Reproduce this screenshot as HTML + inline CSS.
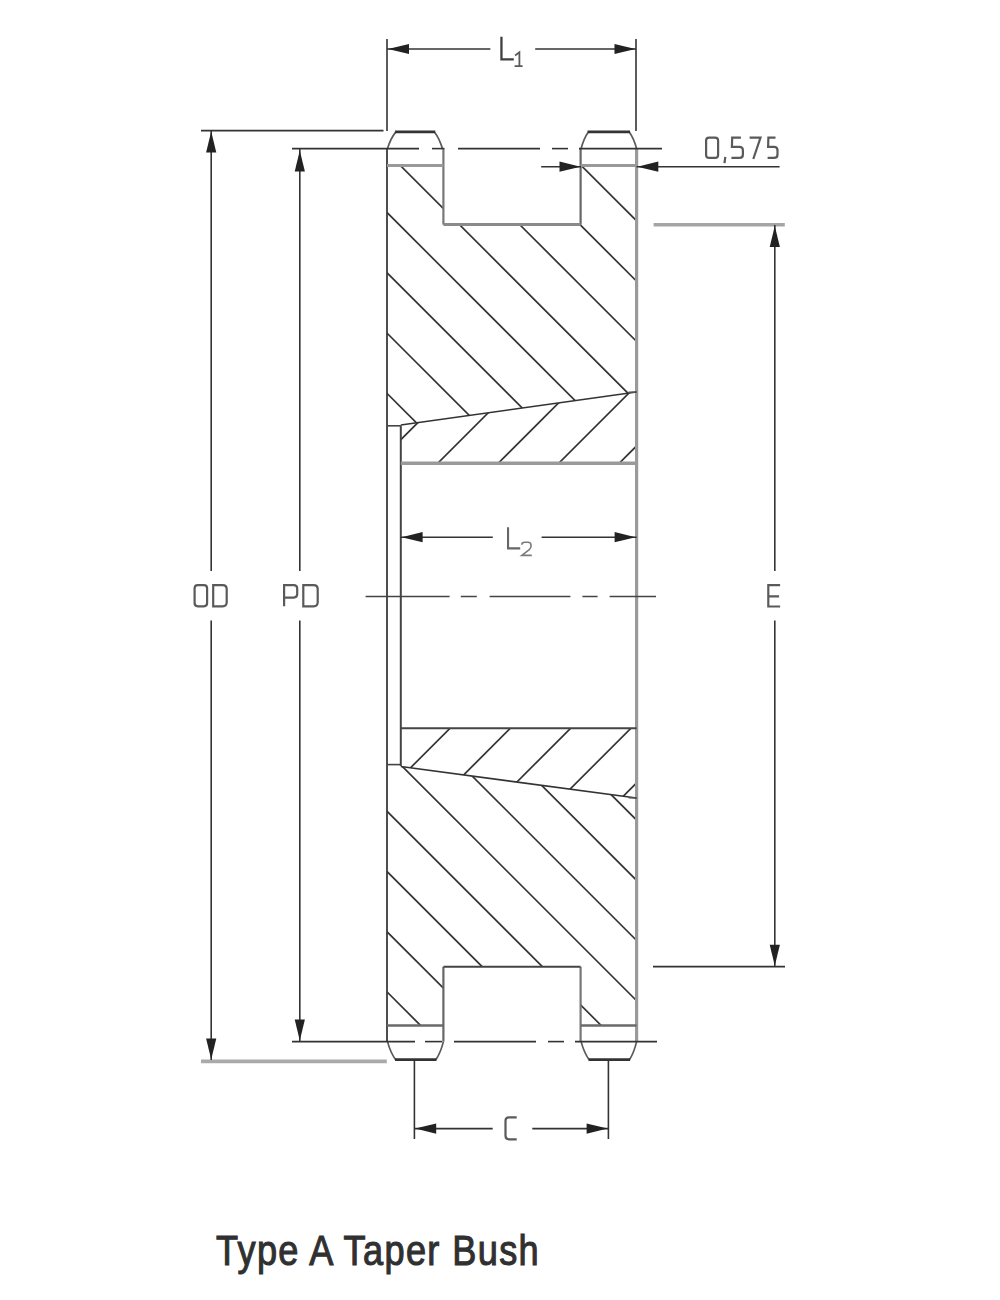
<!DOCTYPE html>
<html><head><meta charset="utf-8"><title>Type A Taper Bush</title>
<style>
html,body{margin:0;padding:0;background:#fff;}
body{width:1000px;height:1300px;position:relative;overflow:hidden;font-family:"Liberation Sans",sans-serif;}
.title{position:absolute;left:216px;top:1227.4px;transform:scaleX(0.8603);font-family:"Liberation Sans",sans-serif;font-weight:normal;font-size:42px;color:#303030;-webkit-text-stroke:1.1px #303030;letter-spacing:1.6px;white-space:nowrap;transform-origin:0 0;}
</style></head>
<body>
<svg width="1000" height="1300" viewBox="0 0 1000 1300" style="position:absolute;left:0;top:0">
<defs><clipPath id="hub1"><polygon points="387.0,165.6 443.4,165.6 443.4,224.6 580.6,224.6 580.6,165.6 636.6,165.6 636.6,392.0 400.8,425.0 387.0,425.8"/></clipPath><clipPath id="bush1"><polygon points="400.8,425.0 636.6,392.0 636.6,463.3 400.8,463.3"/></clipPath><clipPath id="bush2"><polygon points="400.8,728.2 636.6,728.2 636.6,798.0 400.8,766.5"/></clipPath><clipPath id="hub2"><polygon points="387.0,764.6 400.8,766.5 636.6,798.0 636.6,1025.5 580.6,1025.5 580.6,966.8 443.4,966.8 443.4,1025.5 387.0,1025.5"/></clipPath></defs>
<line x1="300" y1="306.4" x2="700" y2="706.4" stroke="#333" stroke-width="1.7" clip-path="url(#hub1)"/>
<line x1="300" y1="246.1" x2="700" y2="646.1" stroke="#333" stroke-width="1.7" clip-path="url(#hub1)"/>
<line x1="300" y1="185.8" x2="700" y2="585.8" stroke="#333" stroke-width="1.7" clip-path="url(#hub1)"/>
<line x1="300" y1="125.50000000000003" x2="700" y2="525.5" stroke="#333" stroke-width="1.7" clip-path="url(#hub1)"/>
<line x1="300" y1="65.20000000000002" x2="700" y2="465.20000000000005" stroke="#333" stroke-width="1.7" clip-path="url(#hub1)"/>
<line x1="300" y1="4.899999999999977" x2="700" y2="404.9" stroke="#333" stroke-width="1.7" clip-path="url(#hub1)"/>
<line x1="300" y1="-55.39999999999998" x2="700" y2="344.6" stroke="#333" stroke-width="1.7" clip-path="url(#hub1)"/>
<line x1="300" y1="-115.69999999999999" x2="700" y2="284.3" stroke="#333" stroke-width="1.7" clip-path="url(#hub1)"/>
<line x1="300" y1="-176.0" x2="700" y2="224.0" stroke="#333" stroke-width="1.7" clip-path="url(#hub1)"/>
<line x1="300" y1="423.3" x2="700" y2="823.3" stroke="#333" stroke-width="1.7" clip-path="url(#hub2)"/>
<line x1="300" y1="483.5" x2="700" y2="883.5" stroke="#333" stroke-width="1.7" clip-path="url(#hub2)"/>
<line x1="300" y1="543.7" x2="700" y2="943.7" stroke="#333" stroke-width="1.7" clip-path="url(#hub2)"/>
<line x1="300" y1="603.9" x2="700" y2="1003.9" stroke="#333" stroke-width="1.7" clip-path="url(#hub2)"/>
<line x1="300" y1="664.1" x2="700" y2="1064.1" stroke="#333" stroke-width="1.7" clip-path="url(#hub2)"/>
<line x1="300" y1="724.3" x2="700" y2="1124.3" stroke="#333" stroke-width="1.7" clip-path="url(#hub2)"/>
<line x1="300" y1="784.5" x2="700" y2="1184.5" stroke="#333" stroke-width="1.7" clip-path="url(#hub2)"/>
<line x1="300" y1="844.7" x2="700" y2="1244.7" stroke="#333" stroke-width="1.7" clip-path="url(#hub2)"/>
<line x1="300" y1="904.9000000000001" x2="700" y2="1304.9" stroke="#333" stroke-width="1.7" clip-path="url(#hub2)"/>
<line x1="300" y1="965.1" x2="700" y2="1365.1" stroke="#333" stroke-width="1.7" clip-path="url(#hub2)"/>
<line x1="300" y1="480.0" x2="700" y2="80.0" stroke="#333" stroke-width="1.7" clip-path="url(#bush1)"/>
<line x1="300" y1="540.5" x2="700" y2="140.5" stroke="#333" stroke-width="1.7" clip-path="url(#bush1)"/>
<line x1="300" y1="601.0" x2="700" y2="201.0" stroke="#333" stroke-width="1.7" clip-path="url(#bush1)"/>
<line x1="300" y1="661.5" x2="700" y2="261.5" stroke="#333" stroke-width="1.7" clip-path="url(#bush1)"/>
<line x1="300" y1="722.0" x2="700" y2="322.0" stroke="#333" stroke-width="1.7" clip-path="url(#bush1)"/>
<line x1="300" y1="782.5" x2="700" y2="382.5" stroke="#333" stroke-width="1.7" clip-path="url(#bush1)"/>
<line x1="300" y1="843.0" x2="700" y2="443.0" stroke="#333" stroke-width="1.7" clip-path="url(#bush1)"/>
<line x1="300" y1="903.5" x2="700" y2="503.5" stroke="#333" stroke-width="1.7" clip-path="url(#bush1)"/>
<line x1="300" y1="818.0" x2="700" y2="418.0" stroke="#333" stroke-width="1.7" clip-path="url(#bush2)"/>
<line x1="300" y1="878.3" x2="700" y2="478.29999999999995" stroke="#333" stroke-width="1.7" clip-path="url(#bush2)"/>
<line x1="300" y1="938.5999999999999" x2="700" y2="538.5999999999999" stroke="#333" stroke-width="1.7" clip-path="url(#bush2)"/>
<line x1="300" y1="998.8999999999999" x2="700" y2="598.8999999999999" stroke="#333" stroke-width="1.7" clip-path="url(#bush2)"/>
<line x1="300" y1="1059.1999999999998" x2="700" y2="659.1999999999998" stroke="#333" stroke-width="1.7" clip-path="url(#bush2)"/>
<line x1="300" y1="1119.5" x2="700" y2="719.5" stroke="#333" stroke-width="1.7" clip-path="url(#bush2)"/>
<line x1="300" y1="1179.8" x2="700" y2="779.8" stroke="#333" stroke-width="1.7" clip-path="url(#bush2)"/>
<line x1="300" y1="1240.1" x2="700" y2="840.0999999999999" stroke="#333" stroke-width="1.7" clip-path="url(#bush2)"/>
<line x1="387.0" y1="148.6" x2="387.0" y2="1041.6" stroke="#3a3a3a" stroke-width="1.8" />
<line x1="636.6" y1="148.1" x2="636.6" y2="1042.1" stroke="#9a9a9a" stroke-width="3.2" />
<line x1="400.8" y1="425.8" x2="400.8" y2="766.1" stroke="#444" stroke-width="2.0" />
<line x1="387.0" y1="425.8" x2="400.8" y2="425.8" stroke="#444" stroke-width="1.6" />
<line x1="387.0" y1="764.6" x2="400.8" y2="764.6" stroke="#444" stroke-width="1.6" />
<line x1="400.8" y1="425.0" x2="636.6" y2="392.0" stroke="#333" stroke-width="1.6" />
<line x1="400.8" y1="766.5" x2="636.6" y2="798.0" stroke="#333" stroke-width="1.6" />
<line x1="628.6" y1="392.3" x2="636.6" y2="392.0" stroke="#555" stroke-width="1.4" />
<line x1="628.6" y1="797.7" x2="636.6" y2="798.0" stroke="#555" stroke-width="1.4" />
<line x1="400.8" y1="463.3" x2="636.6" y2="463.3" stroke="#9a9a9a" stroke-width="3.4" />
<line x1="400.8" y1="728.2" x2="636.6" y2="728.2" stroke="#454545" stroke-width="2.0" />
<line x1="443.4" y1="148.6" x2="443.4" y2="224.6" stroke="#777" stroke-width="2.2" />
<line x1="580.6" y1="148.6" x2="580.6" y2="224.6" stroke="#666" stroke-width="2.2" />
<line x1="443.4" y1="224.6" x2="580.6" y2="224.6" stroke="#8a8a8a" stroke-width="3.0" />
<line x1="443.4" y1="966.8" x2="443.4" y2="1041.6" stroke="#666" stroke-width="2.2" />
<line x1="580.6" y1="966.8" x2="580.6" y2="1041.6" stroke="#777" stroke-width="2.2" />
<line x1="443.4" y1="966.8" x2="580.6" y2="966.8" stroke="#444" stroke-width="2.0" />
<line x1="387.0" y1="165.6" x2="443.4" y2="165.6" stroke="#999" stroke-width="3.0" />
<line x1="580.6" y1="165.6" x2="636.6" y2="165.6" stroke="#999" stroke-width="3.0" />
<line x1="387.0" y1="1025.5" x2="443.4" y2="1025.5" stroke="#6a6a6a" stroke-width="2.4" />
<line x1="580.6" y1="1025.5" x2="636.6" y2="1025.5" stroke="#6a6a6a" stroke-width="2.4" />
<path d="M387.5,148.6 Q390.54,138.56 395.5,132.4 M442.4,148.6 Q439.51,138.56 434.8,132.4" fill="none" stroke="#5a5a5a" stroke-width="1.7"/>
<line x1="395.0" y1="131.9" x2="435.3" y2="131.9" stroke="#333" stroke-width="2.8" />
<path d="M581.1,148.6 Q583.72,138.56 588,132.4 M636.6,148.6 Q633.94,138.56 629.6,132.4" fill="none" stroke="#5a5a5a" stroke-width="1.7"/>
<line x1="587.5" y1="131.9" x2="630.1" y2="131.9" stroke="#333" stroke-width="2.8" />
<path d="M387.5,1041.6 Q390.54,1052.70 395.5,1059.5 M443.4,1041.6 Q440.59,1052.70 436,1059.5" fill="none" stroke="#5a5a5a" stroke-width="1.7"/>
<line x1="395.0" y1="1059.7" x2="436.5" y2="1059.7" stroke="#333" stroke-width="2.8" />
<path d="M581.1,1041.6 Q584.10,1052.70 589,1059.5 M636.6,1041.6 Q633.94,1052.70 629.6,1059.5" fill="none" stroke="#5a5a5a" stroke-width="1.7"/>
<line x1="588.5" y1="1059.7" x2="630.1" y2="1059.7" stroke="#333" stroke-width="2.8" />
<line x1="292" y1="148.6" x2="419" y2="148.6" stroke="#333" stroke-width="1.6" />
<line x1="432" y1="148.6" x2="444.4" y2="148.6" stroke="#333" stroke-width="1.6" />
<line x1="458" y1="148.6" x2="540" y2="148.6" stroke="#333" stroke-width="1.6" />
<line x1="552" y1="148.6" x2="568" y2="148.6" stroke="#333" stroke-width="1.6" />
<line x1="579" y1="148.6" x2="662" y2="148.6" stroke="#333" stroke-width="1.6" />
<line x1="292" y1="1041.6" x2="415" y2="1041.6" stroke="#333" stroke-width="1.6" />
<line x1="425" y1="1041.6" x2="442" y2="1041.6" stroke="#333" stroke-width="1.6" />
<line x1="454" y1="1041.6" x2="536" y2="1041.6" stroke="#333" stroke-width="1.6" />
<line x1="548" y1="1041.6" x2="564" y2="1041.6" stroke="#333" stroke-width="1.6" />
<line x1="575" y1="1041.6" x2="657" y2="1041.6" stroke="#333" stroke-width="1.6" />
<line x1="365.6" y1="596.5" x2="449.6" y2="596.5" stroke="#444" stroke-width="1.5" />
<line x1="460.8" y1="596.5" x2="476.8" y2="596.5" stroke="#444" stroke-width="1.5" />
<line x1="489.6" y1="596.5" x2="570.4" y2="596.5" stroke="#444" stroke-width="1.5" />
<line x1="582.4" y1="596.5" x2="597.6" y2="596.5" stroke="#444" stroke-width="1.5" />
<line x1="609.6" y1="596.5" x2="656" y2="596.5" stroke="#444" stroke-width="1.5" />
<line x1="387.0" y1="39" x2="387.0" y2="131.1" stroke="#333" stroke-width="1.6" />
<line x1="636.0" y1="39" x2="636.0" y2="131.1" stroke="#333" stroke-width="1.6" />
<line x1="387.0" y1="49" x2="490.4" y2="49" stroke="#333" stroke-width="1.6" />
<line x1="535.2" y1="49" x2="636" y2="49" stroke="#333" stroke-width="1.6" />
<polygon points="388.00,49.00 409.00,43.90 409.00,54.10" fill="#222"/>
<polygon points="635.50,49.00 614.50,54.10 614.50,43.90" fill="#222"/>
<line x1="201" y1="130.6" x2="383.5" y2="130.6" stroke="#333" stroke-width="1.6" />
<line x1="201" y1="1061.4" x2="386.8" y2="1061.4" stroke="#aaa" stroke-width="3.6" />
<line x1="211.2" y1="131" x2="211.2" y2="571" stroke="#333" stroke-width="1.6" />
<line x1="211.2" y1="620.5" x2="211.2" y2="1060" stroke="#333" stroke-width="1.6" />
<polygon points="211.20,131.60 216.30,152.60 206.10,152.60" fill="#222"/>
<polygon points="211.20,1059.60 206.10,1038.60 216.30,1038.60" fill="#222"/>
<line x1="299.8" y1="148.6" x2="299.8" y2="571" stroke="#333" stroke-width="1.6" />
<line x1="299.8" y1="620.5" x2="299.8" y2="1041.6" stroke="#333" stroke-width="1.6" />
<polygon points="299.80,150.60 304.90,171.60 294.70,171.60" fill="#222"/>
<polygon points="299.80,1040.60 294.70,1019.60 304.90,1019.60" fill="#222"/>
<line x1="653.6" y1="224.8" x2="784.8" y2="224.8" stroke="#a5a5a5" stroke-width="3.4" />
<line x1="653" y1="966.6" x2="785" y2="966.6" stroke="#333" stroke-width="1.6" />
<line x1="774.8" y1="225" x2="774.8" y2="571" stroke="#333" stroke-width="1.6" />
<line x1="774.8" y1="620.5" x2="774.8" y2="966" stroke="#333" stroke-width="1.6" />
<polygon points="774.80,226.00 779.90,247.00 769.70,247.00" fill="#222"/>
<polygon points="774.80,965.80 769.70,944.80 779.90,944.80" fill="#222"/>
<line x1="541.2" y1="166.7" x2="581" y2="166.7" stroke="#333" stroke-width="1.6" />
<line x1="636.5" y1="166.7" x2="779.6" y2="166.7" stroke="#333" stroke-width="1.6" />
<polygon points="580.50,166.70 559.50,171.80 559.50,161.60" fill="#222"/>
<polygon points="637.30,166.70 658.30,161.60 658.30,171.80" fill="#222"/>
<line x1="400.8" y1="537.2" x2="492.8" y2="537.2" stroke="#333" stroke-width="1.6" />
<line x1="541.6" y1="537.2" x2="636.6" y2="537.2" stroke="#333" stroke-width="1.6" />
<polygon points="401.60,537.20 422.60,532.10 422.60,542.30" fill="#222"/>
<polygon points="635.60,537.20 614.60,542.30 614.60,532.10" fill="#222"/>
<line x1="414.4" y1="1060.3" x2="414.4" y2="1139" stroke="#333" stroke-width="1.6" />
<line x1="608.4" y1="1060.3" x2="608.4" y2="1139" stroke="#333" stroke-width="1.6" />
<line x1="414.4" y1="1128.6" x2="492.7" y2="1128.6" stroke="#333" stroke-width="1.6" />
<line x1="532.3" y1="1128.6" x2="608.4" y2="1128.6" stroke="#333" stroke-width="1.6" />
<polygon points="415.20,1128.60 436.20,1123.50 436.20,1133.70" fill="#222"/>
<polygon points="607.60,1128.60 586.60,1133.70 586.60,1123.50" fill="#222"/>
<path d="M197.79999999999998,585.1 H203.9 Q207.1,585.1 207.1,588.3000000000001 V603.0999999999999 Q207.1,606.3 203.9,606.3 H197.79999999999998 Q194.6,606.3 194.6,603.0999999999999 V588.3000000000001 Q194.6,585.1 197.79999999999998,585.1 Z" fill="none" stroke="#5a5a5a" stroke-width="2.2" />
<path d="M213.2,585.1 H222.70000000000002 Q226.70000000000002,585.1 226.70000000000002,589.1 V602.3 Q226.70000000000002,606.3 222.70000000000002,606.3 H213.2 Z" fill="none" stroke="#5a5a5a" stroke-width="2.2" />
<path d="M284.1,606.3 V585.1 H293.7 Q297.2,585.1 297.2,588.6 V594.1 Q297.2,597.6 293.7,597.6 H284.1" fill="none" stroke="#5a5a5a" stroke-width="2.2" />
<path d="M303.3,585.1 H313.7 Q317.7,585.1 317.7,589.1 V602.3 Q317.7,606.3 313.7,606.3 H303.3 Z" fill="none" stroke="#5a5a5a" stroke-width="2.2" />
<path d="M780.1,585.1 H768.3000000000001 V606.5 H780.1 M768.3000000000001,596.3 H779.1" fill="none" stroke="#5a5a5a" stroke-width="2.2" />
<path d="M501.45,36.8 V59.45 H513.8" fill="none" stroke="#404040" stroke-width="2.3" />
<path d="M515.1,55.4 L519.4,52.3 V66.1 M514.6,66.1 H522.6" fill="none" stroke="#5a5a5a" stroke-width="1.8" />
<path d="M508.05,527.2 V548.35 H520.2" fill="none" stroke="#666" stroke-width="2.1" />
<path d="M521.8,544.8 Q521.8,542.3 524.8,542.3 H528.0 Q531.0,542.3 531.0,545.3 V546.3 Q531.0,548.3 529.0,549.8 L521.8,555.4000000000001 H531.8" fill="none" stroke="#7a7a7a" stroke-width="1.6" />
<path d="M516.6999999999999,1117.3 H509.0 Q505.5,1117.3 505.5,1120.8 V1135.8000000000002 Q505.5,1139.3000000000002 509.0,1139.3000000000002 H516.6999999999999" fill="none" stroke="#5a5a5a" stroke-width="2.2" />
<path d="M709.1,137.6 H715.1 Q718.1,137.6 718.1,140.6 V154.9 Q718.1,157.9 715.1,157.9 H709.1 Q706.1,157.9 706.1,154.9 V140.6 Q706.1,137.6 709.1,137.6 Z" fill="none" stroke="#5a5a5a" stroke-width="2.2" />
<path d="M725.3000000000001,156.8 L724.5,163.2" fill="none" stroke="#5a5a5a" stroke-width="2.2" />
<path d="M740.9,137.6 H732.1999999999999 L731.9,146.8 H739.4 Q742.9,146.8 742.9,150.3 V154.4 Q742.9,157.9 739.4,157.9 H731.4" fill="none" stroke="#5a5a5a" stroke-width="2.2" />
<path d="M749.6,137.6 H760.5 L753.3000000000001,159.0" fill="none" stroke="#5a5a5a" stroke-width="2.2" />
<path d="M775.5,137.6 H768.4 L768.1,146.8 H774.0 Q777.5,146.8 777.5,150.3 V154.4 Q777.5,157.9 774.0,157.9 H767.6" fill="none" stroke="#5a5a5a" stroke-width="2.2" />
</svg>
<div class="title" id="title">Type A Taper Bush</div>
</body></html>
